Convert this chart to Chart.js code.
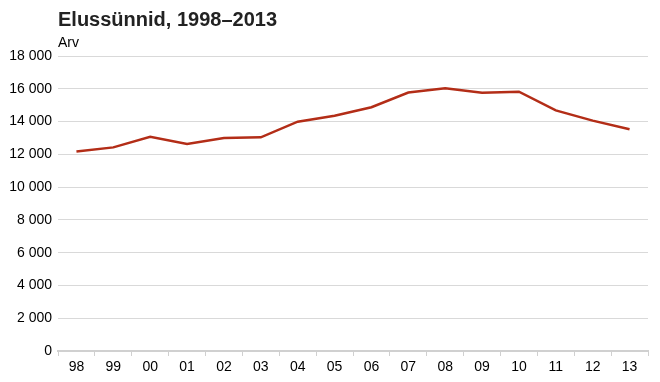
<!DOCTYPE html>
<html><head><meta charset="utf-8">
<script src="https://cdn.jsdelivr.net/npm/chart.js@4/dist/chart.umd.min.js"></script>
<style>html,body{margin:0;padding:0;background:#fff}#w{width:660px;height:382px}</style>
</head><body><div id="w"><canvas id="c" width="660" height="382"></canvas></div>
<script>
const categories = ["98","99","00","01","02","03","04","05","06","07","08","09","10","11","12","13"];
const births = [12167,12425,13067,12632,13001,13036,13992,14350,14877,15775,16028,15763,15825,14679,14056,13531];
const yTicks = [0,2000,4000,6000,8000,10000,12000,14000,16000,18000];
const titleText = "Elussünnid, 1998–2013";
const unitText = "Arv";

const fmt = v => String(v).replace(/\B(?=(\d{3})+(?!\d))/g, " ");

const textPlugin = {
  id: 'texts',
  afterDraw(chart) {
    const ctx = chart.ctx;
    ctx.save();
    ctx.fillStyle = '#222';
    ctx.textBaseline = 'alphabetic';
    ctx.textAlign = 'left';
    ctx.font = 'bold 20px "Liberation Sans", Arial, sans-serif';
    ctx.fillText(titleText, 58, 26);
    ctx.font = '14px "Liberation Sans", Arial, sans-serif';
    ctx.fillStyle = '#000';
    ctx.fillText(unitText, 58, 47);
    ctx.restore();
  }
};

new Chart(document.getElementById('c'), {
  type: 'line',
  data: { labels: categories, datasets: [{
    data: births, borderColor: '#b32d17', borderWidth: 2.5, pointRadius: 0, tension: 0, fill: false
  }]},
  options: {
    responsive: false, animation: false,
    layout: { padding: { top: 56, right: 12, left: 0, bottom: 0 } },
    plugins: { legend: { display: false }, tooltip: { enabled: false }, title: { display: false } },
    scales: {
      x: {
        offset: true,
        grid: { offset: true, drawOnChartArea: false, drawTicks: true, tickLength: 5, color: '#d0d0d0', lineWidth: 1 },
        border: { color: '#d0d0d0', width: 2 },
        ticks: { color: '#000', font: { family: '"Liberation Sans", Arial, sans-serif', size: 14 }, padding: 3, maxRotation: 0, autoSkip: false },
        afterFit(s) { s.height = 31; }
      },
      y: {
        min: 0, max: 18000,
        afterBuildTicks(s) { s.ticks = yTicks.map(v => ({ value: v })); },
        grid: { color: '#d9d9d9', lineWidth: 1, drawTicks: false },
        border: { display: false },
        ticks: { color: '#000', padding: 6, font: { family: '"Liberation Sans", Arial, sans-serif', size: 14 }, callback: v => fmt(v) },
        afterFit(s) { s.width = 58; }
      }
    }
  },
  plugins: [textPlugin]
});
</script></body></html>
